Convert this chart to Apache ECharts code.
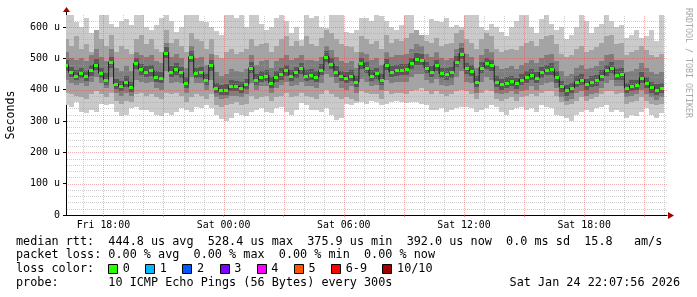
<!DOCTYPE html>
<html><head><meta charset="utf-8">
<script src="https://cdn.jsdelivr.net/npm/echarts@6/dist/echarts.min.js"></script>
<style>html,body{margin:0;padding:0;background:#fff}#c{width:697px;height:297px}</style>
</head><body><div id="c"></div>
<script>
// ---- data (microseconds), one sample every 15 min starting Fri 16:08 ----
const startHour = 16 + 8/60;
const stepHours = 0.25;
const median = [478,455,445,452,442,462,480,452,432,488, 418,410,425,408,484,465,457,462,440,438,
 518,457,465,455,420,505,452,455,432,478, 405,398,400,412,410,406,418,470,432,441,
 445,421,441,450,462,445,455,468,443,447, 440,463,505,482,457,443,437,445,425,484,
 470,445,452,431,480,457,462,463,465,484, 498,495,470,457,478,452,450,455,489,515,
 468,460,425,470,484,478,425,418,422,428, 420,432,440,448,438,455,462,466,440,410,
 398,405,425,432,418,425,430,445,462,470, 448,450,405,412,415,438,422,408,400,405];
const pingMax = [640,638,615,600,630,580,568,640,640,610, 600,620,625,605,640,640,600,590,605,630,
 640,620,585,600,640,638,640,620,615,600, 586,575,640,638,630,640,600,640,640,610,
 590,600,630,640,620,580,600,558,640,630, 635,600,595,640,640,640,585,580,590,630,
 630,620,640,635,620,600,590,605,640,640, 585,560,575,625,620,615,630,600,605,600,
 640,638,640,600,590,610,600,585,570,600, 620,640,640,600,580,625,640,610,590,600,
 560,575,600,640,620,580,600,610,640,620, 600,606,565,575,590,565,570,590,555,638];
const pingMin = [350,345,360,330,325,335,330,355,350,355, 330,315,320,340,345,335,335,330,320,315,
 325,320,330,340,335,330,345,340,350,340, 320,305,300,310,325,320,315,330,335,340,
 330,325,340,345,330,320,335,357,350,335, 335,330,340,320,303,310,355,350,357,360,
 355,365,360,350,355,360,365,360,358,362, 360,355,350,335,335,340,330,335,340,345,
 345,340,330,335,340,350,345,330,320,335, 340,345,335,340,330,350,345,340,320,315,
 310,300,320,330,335,330,340,345,350,330, 335,330,310,320,315,330,340,320,310,325];
const ping9 = [560,540,570,530,545,520,590,560,540,575, 520,540,530,515,560,575,545,560,530,520,
 590,550,560,540,520,580,560,555,530,560, 510,500,520,530,515,520,530,560,540,545,
 550,520,540,560,570,540,555,540,570,545, 540,565,590,580,560,545,540,535,520,570,
 560,545,555,530,575,550,560,555,565,580, 590,575,555,550,565,540,545,550,580,590,
 560,550,530,560,580,570,530,520,525,530, 525,540,550,555,540,560,570,575,545,515,
 505,510,530,540,520,525,535,550,570,575, 545,550,510,520,525,540,525,510,505,515];
const ping2 = [390,385,380,375,370,385,395,385,375,390, 365,355,365,360,385,390,380,385,375,370,
 390,385,390,380,360,375,385,380,370,385, 350,345,350,355,360,350,355,380,370,375,
 380,365,375,380,390,375,380,390,380,375, 370,385,400,385,375,370,375,370,365,395,
 390,385,385,370,395,385,390,390,385,395, 400,405,395,385,395,385,380,385,395,400,
 395,385,370,390,400,395,370,365,370,375, 365,375,380,385,380,390,395,395,380,360,
 350,355,365,375,365,370,375,385,395,395, 385,390,355,360,365,375,365,355,350,355];
const ping8 = [520,500,495,500,490,510,530,505,490,530, 470,460,475,460,520,510,505,510,490,485,
 550,505,515,500,470,540,500,505,480,515, 455,445,450,465,460,455,465,510,480,490,
 495,470,490,500,510,495,500,510,495,495, 490,505,540,525,505,490,485,490,470,520,
 515,495,500,480,520,505,510,510,515,530, 545,540,515,505,520,500,495,500,530,550,
 515,505,470,510,530,520,475,465,470,475, 465,480,485,495,485,500,510,515,490,460,
 445,450,470,480,465,470,475,490,510,515, 495,495,455,460,465,485,470,455,450,455];
const ping3 = [430,420,415,420,410,425,440,420,405,440, 390,380,390,380,430,425,420,425,405,400,
 460,420,425,420,390,440,420,420,400,430, 375,370,372,380,380,375,385,420,400,410,
 410,390,405,415,425,410,415,425,410,412, 405,420,450,440,420,405,400,410,390,435,
 425,410,415,400,430,420,425,425,425,440, 450,450,430,420,435,415,410,415,440,460,
 425,420,390,425,440,430,390,385,390,395, 385,395,400,410,400,415,420,425,405,375,
 365,370,390,395,380,385,390,405,420,430, 410,410,375,380,385,400,385,375,368,375];
const ping7 = [495,472,462,470,460,480,498,470,452,505, 435,428,442,425,500,482,475,480,458,455,
 535,475,485,472,440,522,470,472,450,495, 422,415,418,430,428,423,435,488,450,460,
 462,440,460,468,480,462,472,486,462,465, 458,482,522,500,475,460,455,462,442,502,
 488,462,470,450,498,475,480,482,483,502, 516,512,488,475,495,470,468,472,506,532,
 486,478,442,488,502,495,442,435,440,445, 438,450,458,465,455,472,480,484,458,428,
 415,422,442,450,435,442,448,462,480,488, 466,468,422,430,432,455,440,425,418,422];
const ping4 = [460,440,430,436,426,445,462,436,415,470, 402,394,408,392,466,448,440,445,424,422,
 500,440,448,438,404,488,436,438,416,460, 390,382,384,396,394,390,402,452,416,424,
 428,405,424,432,445,428,438,450,426,430, 424,446,488,465,440,426,420,428,408,466,
 452,428,435,414,462,440,444,446,448,466, 480,478,452,440,460,436,432,438,472,498,
 450,442,408,452,466,460,408,400,405,410, 402,415,422,430,420,438,446,448,422,392,
 380,388,408,415,400,408,412,428,445,452, 432,432,388,395,398,420,405,390,382,388];

// ---- axis / tick labels ----
const yLabelValues = [0,100,200,300,400,500,600];
const xLabelHours = [18,24,30,36,42];
const lossLabels = ['0','1','2','3','4','5','6-9','10/10'];
const lossColors = ['#26ff00','#00b8ff','#0059ff','#7e00ff','#ff00ff','#ff5500','#ff0000','#a00000'];
const legendLine1 = 'median rtt:  444.8 us avg  528.4 us max  375.9 us min  392.0 us now  0.0 ms sd  15.8   am/s';
const legendLine2 = 'packet loss: 0.00 % avg  0.00 % max  0.00 % min  0.00 % now';
const legendLine3 = 'loss color:';
const legendLine4 = 'probe:       10 ICMP Echo Pings (56 Bytes) every 300s';
const stampText = 'Sat Jan 24 22:07:56 2026';

const YMAX = 638, SPAN = 30;
const times = median.map((_, i) => startHour + i * stepHours);
const MONO = '"DejaVu Sans Mono", monospace';

function bandSeries(lo, hi, color){
  return {
    type:'custom', z:2, clip:true, silent:true, animation:false,
    data: times.map((t,i)=>[t, lo[i], hi[i]]),
    encode:{x:0, y:[1,2]},
    renderItem(params, api){
      const t = api.value(0);
      const a = api.coord([t - stepHours/2, api.value(2)]);
      const b = api.coord([t + stepHours/2, api.value(1)]);
      const x1 = Math.round(a[0]), x2 = Math.round(b[0]);
      return {type:'rect', shape:{x:x1, y:Math.round(a[1]), width:x2-x1, height:Math.round(b[1])-Math.round(a[1])}, style:{fill:color}};
    }
  };
}

// dotted grid: 1px rects filled with a checkerboard pattern
function dotPattern(color){
  const c = document.createElement('canvas'); c.width = 2; c.height = 2;
  const ctx = c.getContext('2d'); ctx.fillStyle = color;
  ctx.fillRect(0,0,1,1); ctx.fillRect(1,1,1,1);
  return {image:c, repeat:'repeat'};
}
const hMinor=[], hMajor=[], vMinor=[], vMajor=[];
for(let v=20; v<YMAX; v+=20){ (v%100===0 ? hMajor : hMinor).push([startHour, v]); }
for(let h=17; h<startHour+SPAN; h++){ (h%3===0 ? vMajor : vMinor).push([h, 0]); }
const minorFill = dotPattern('rgba(160,160,160,0.5)');
const majorFill = dotPattern('rgba(225,70,70,0.42)');
function gridSeries(rows, horizontal, fill){
  return {
    type:'custom', z:3, clip:false, silent:true, animation:false,
    data: rows, encode:{x:0, y:1},
    renderItem(params, api){
      const cs = params.coordSys;
      const p = api.coord([api.value(0), api.value(1)]);
      const shape = horizontal
        ? {x:cs.x+1, y:Math.round(p[1]), width:cs.width-1, height:1}
        : {x:Math.round(p[0]), y:cs.y, width:1, height:cs.height};
      return {type:'rect', shape, style:{fill}};
    }
  };
}

function pad(n){ return (n<10?'0':'')+n; }
function hourLabel(v){ return (v<24?'Fri ':'Sat ')+pad(v%24)+':00'; }

const chart = echarts.init(document.getElementById('c'), null, {renderer:'canvas'});
chart.setOption({
  animation:false,
  backgroundColor:'#ffffff',
  grid:{left:66, top:15, width:601, height:200, containLabel:false, outerBoundsMode:'none'},
  xAxis:{
    type:'value', min:startHour, max:startHour+SPAN,
    axisLine:{show:true, lineStyle:{color:'#000', width:1}},
    axisTick:{show:true, customValues:xLabelHours.concat([21,27,33,39,45]), length:2, lineStyle:{color:'rgba(225,80,80,0.6)'}},
    axisLabel:{customValues:xLabelHours, formatter:v=>hourLabel(Math.round(v)), color:'#000',
      fontFamily:MONO, fontSize:9.9, margin:5},
    splitLine:{show:false}
  },
  yAxis:{
    type:'value', min:0, max:YMAX,
    name:'Seconds', nameLocation:'middle', nameGap:49, nameRotate:90,
    nameTextStyle:{fontFamily:MONO, fontSize:11.6, color:'#000'},
    axisLine:{show:true, lineStyle:{color:'#000', width:1}},
    axisTick:{show:true, customValues:yLabelValues, length:3, lineStyle:{color:'#000'}},
    axisLabel:{customValues:yLabelValues, formatter:v=>v===0?'0':v+' u', color:'#000',
      fontFamily:MONO, fontSize:10, margin:6},
    splitLine:{show:false}
  },
  series:[
    bandSeries(pingMin, pingMax, '#cacaca'),
    bandSeries(ping2, ping9, '#a4a4a4'),
    bandSeries(ping3, ping8, '#7e7e7e'),
    bandSeries(ping4, ping7, '#585858'),
    gridSeries(hMinor, true, minorFill),
    gridSeries(vMinor, false, minorFill),
    gridSeries(hMajor, true, majorFill),
    gridSeries(vMajor, false, majorFill),
    {type:'line', z:4, step:'middle', symbol:'none', silent:true,
      data: times.map((t,i)=>[t, median[i]]), lineStyle:{color:'#1e1e1e', width:1}},
    {type:'custom', z:5, clip:true, silent:true,
      data: times.map((t,i)=>[t, median[i]]), encode:{x:0,y:1},
      renderItem(params, api){
        const p = api.coord([api.value(0), api.value(1)]);
        return {type:'rect', shape:{x:Math.round(p[0])-2, y:Math.round(p[1])-1, width:4, height:3}, style:{fill:lossColors[0]}};
      }}
  ]
});

// decorations & legend text
const pTop = chart.convertToPixel({gridIndex:0}, [startHour, YMAX]);
const pRight = chart.convertToPixel({gridIndex:0}, [startHour+SPAN, 0]);
const arrowColor = '#a00000';
const CW = 7.08, X0 = 16;
const g = [
  {type:'line', shape:{x1:pTop[0]+0.5, y1:pTop[1], x2:pTop[0]+0.5, y2:pTop[1]-3}, style:{stroke:'#000', lineWidth:1}},
  {type:'polygon', shape:{points:[[pTop[0]-3, pTop[1]-3],[pTop[0]+4, pTop[1]-3],[pTop[0]+0.5, pTop[1]-8]]}, style:{fill:arrowColor}},
  {type:'polygon', shape:{points:[[pRight[0]+1, pRight[1]-3],[pRight[0]+1, pRight[1]+4],[pRight[0]+7, pRight[1]+0.5]]}, style:{fill:arrowColor}},
  {type:'text', x:688, y:8, rotation:-Math.PI/2, style:{text:'RRDTOOL / TOBI OETIKER', font:'8.3px '+MONO, fill:'#a8a8a8', align:'left', verticalAlign:'middle'}},
  {type:'text', x:X0, y:241.5, style:{text:legendLine1, font:'11.8px '+MONO, fill:'#000', verticalAlign:'middle'}},
  {type:'text', x:X0, y:255.2, style:{text:legendLine2, font:'11.8px '+MONO, fill:'#000', verticalAlign:'middle'}},
  {type:'text', x:X0, y:269, style:{text:legendLine3, font:'11.8px '+MONO, fill:'#000', verticalAlign:'middle'}},
  {type:'text', x:X0, y:282.8, style:{text:legendLine4, font:'11.8px '+MONO, fill:'#000', verticalAlign:'middle'}},
  {type:'text', x:680, y:282.8, style:{text:stampText, font:'11.8px '+MONO, fill:'#000', align:'right', verticalAlign:'middle'}}
];
let sx = X0 + 13*CW;
lossLabels.forEach((lab, i)=>{
  g.push({type:'rect', shape:{x:Math.round(sx)+0.5, y:264.5, width:9, height:9}, style:{fill:lossColors[i], stroke:'#000', lineWidth:1}});
  const lx = sx + 14.6;
  g.push({type:'text', x:lx, y:269, style:{text:lab, font:'11.8px '+MONO, fill:'#000', verticalAlign:'middle'}});
  sx = lx + lab.length*CW + 15.5;
});
chart.setOption({graphic:g});
</script></body></html>
